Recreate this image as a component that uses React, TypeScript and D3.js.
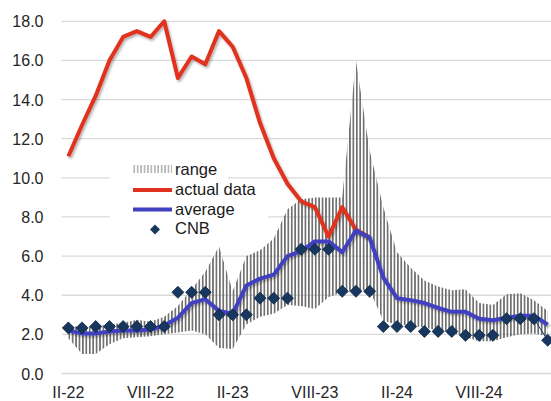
import React from 'react';
import * as d3 from 'd3';

const months: string[] = [
  'II-22','III-22','IV-22','V-22','VI-22','VII-22','VIII-22','IX-22','X-22','XI-22','XII-22',
  'I-23','II-23','III-23','IV-23','V-23','VI-23','VII-23','VIII-23','IX-23','X-23','XI-23','XII-23',
  'I-24','II-24','III-24','IV-24','V-24','VI-24','VII-24','VIII-24','IX-24','X-24','XI-24','XII-24',
  'I-25',
];
const xTickLabels: string[] = ['II-22','VIII-22','II-23','VIII-23','II-24','VIII-24'];
const yTicks: number[] = [0, 2, 4, 6, 8, 10, 12, 14, 16, 18];

const actualData: (number | null)[] = [
  11.1, 12.7, 14.2, 16.0, 17.2, 17.5, 17.2, 18.0, 15.1, 16.2, 15.8, 17.5, 16.7, 15.1, 12.8, 11.0,
  9.7, 8.8, 8.5, 7.0, 8.5, 7.35, 6.95,
  null, null, null, null, null, null, null, null, null, null, null, null, null,
];
const averageData: number[] = [
  2.2, 2.05, 2.05, 2.15, 2.2, 2.2, 2.25, 2.45, 2.85, 3.6, 3.8, 3.2, 3.05, 4.5, 4.85, 5.05, 6.0, 6.25,
  6.75, 6.75, 6.2, 7.3, 6.95, 4.9, 3.85, 3.75, 3.6, 3.35, 3.15, 3.15, 2.8, 2.72, 2.85, 2.95, 2.95, 2.5,
];
const cnbData: number[] = [
  2.33, 2.33, 2.4, 2.4, 2.4, 2.4, 2.4, 2.4, 4.15, 4.15, 4.15, 3.0, 3.0, 3.0, 3.85, 3.85, 3.85, 6.35,
  6.35, 6.35, 4.2, 4.2, 4.2, 2.4, 2.4, 2.4, 2.15, 2.15, 2.15, 1.95, 1.95, 1.95, 2.8, 2.8, 2.8, 1.7,
];
const rangeLow: number[] = [
  1.8, 1.0, 1.0, 1.5, 1.8, 1.85, 1.9, 2.0, 2.1, 2.2, 2.0, 1.3, 1.25, 2.5, 2.9, 3.05, 3.5, 3.45,
  3.3, 3.9, 4.15, 4.25, 4.25, 2.7, 2.5, 2.45, 2.35, 2.2, 2.1, 1.85, 1.65, 1.65, 1.85, 2.0, 2.05, 1.9,
];
const rangeHigh: number[] = [
  2.4, 2.4, 2.4, 2.5, 2.6, 2.75, 2.65, 2.9, 3.45, 4.3, 5.2, 6.5, 4.2, 6.0, 6.3, 6.9, 8.4, 8.9,
  9.0, 9.0, 9.0, 16.0, 11.4, 8.5, 6.2, 5.4, 4.75, 4.45, 4.25, 4.3, 3.6, 3.5, 4.05, 4.1, 3.75, 3.2,
];
const legendLabels: string[] = ['range', 'actual data', 'average', 'CNB'];

const W = 551;
const H = 401;
const FONT = '"Liberation Sans", Arial, sans-serif';
const RED = '#e0301e';
const BLUE = '#4040c0';
const NAVY = '#17375e';

export default function App() {
  const x = d3.scaleBand<string>().domain(months).range([61.5, 554.5]);
  const cx = (i: number) => (x(months[i]) as number) + x.bandwidth() / 2;
  const y = d3.scaleLinear().domain([0, 18]).range([373.5, 21.3]);
  const idx = d3.range(months.length);

  const rangeArea = d3
    .area<number>()
    .x((i) => cx(i))
    .y0((i) => y(rangeLow[i]))
    .y1((i) => y(rangeHigh[i]))(idx) as string;

  const actualLine = d3
    .line<number>()
    .defined((i) => actualData[i] !== null)
    .x((i) => cx(i))
    .y((i) => y(actualData[i] as number))(idx) as string;

  const avgLine = d3
    .line<number>()
    .x((i) => cx(i))
    .y((i) => y(averageData[i]))(idx) as string;

  const diamond = d3.symbol().type(d3.symbolDiamond2).size(92)() as string;
  const legendDiamond = d3.symbol().type(d3.symbolDiamond2).size(64)() as string;
  const fmt = d3.format('.1f');
  const hatchW = x.bandwidth() / 4;
  const n = months.length;

  return (
    <svg width={W} height={H} style={{ position: 'absolute', left: 0, top: 0 }} fontFamily={FONT}>
      <defs>
        <pattern id="hatch" patternUnits="userSpaceOnUse" x={61.5} y={0} width={hatchW} height={10}>
          <rect x={0} y={0} width={1.7} height={10} fill="#707070" />
        </pattern>
        <filter id="shadow" x="-10%" y="-10%" width="130%" height="130%">
          <feDropShadow dx={1.5} dy={2} stdDeviation={1.2} floodColor="#000" floodOpacity={0.3} />
        </filter>
      </defs>
      <rect x={0} y={0} width={W} height={H} fill="#fff" />
      {yTicks.map((v) => (
        <g key={v}>
          <line x1={61.7} x2={W} y1={y(v)} y2={y(v)} stroke="#d9d9d9" strokeWidth={1.3} />
          <text x={43.5} y={y(v) + 6} textAnchor="end" fontSize={16} fill="#262626">
            {fmt(v)}
          </text>
        </g>
      ))}
      {xTickLabels.map((lab) => {
        const i = months.indexOf(lab);
        return (
          <text key={lab} x={cx(i)} y={397.5} textAnchor="middle" fontSize={16} fill="#262626">
            {lab}
          </text>
        );
      })}
      <path d={rangeArea} fill="url(#hatch)" />
      <path d={actualLine} fill="none" stroke={RED} strokeWidth={4} strokeLinejoin="round" filter="url(#shadow)" />
      <path d={avgLine} fill="none" stroke={BLUE} strokeWidth={4} strokeLinejoin="round" filter="url(#shadow)" />
      <line
        x1={cx(n - 2)}
        y1={y(cnbData[n - 2])}
        x2={cx(n - 1)}
        y2={y(cnbData[n - 1])}
        stroke={NAVY}
        strokeWidth={1}
      />
      {cnbData.map((v, i) => (
        <path
          key={i}
          d={diamond}
          transform={`translate(${cx(i)},${y(v)})`}
          fill={NAVY}
          stroke="#0c2340"
          strokeWidth={0.8}
        />
      ))}
      {/* legend */}
      <rect x={110} y={155} width={118} height={30} fill="#fff" />
      <rect x={110} y={180} width={158} height={62} fill="#fff" />
      <rect x={133} y={165} width={39} height={8} fill="url(#hatch)" opacity={0.5} />
      <line x1={133} x2={172} y1={190} y2={190} stroke={RED} strokeWidth={4} />
      <line x1={133} x2={172} y1={209.5} y2={209.5} stroke={BLUE} strokeWidth={4} />
      <path d={legendDiamond} transform="translate(155,229.5)" fill={NAVY} />
      {legendLabels.map((lab, k) => (
        <text key={lab} x={175} y={175 + k * 19.8} fontSize={16.5} fill="#1a1a1a">
          {lab}
        </text>
      ))}
    </svg>
  );
}
